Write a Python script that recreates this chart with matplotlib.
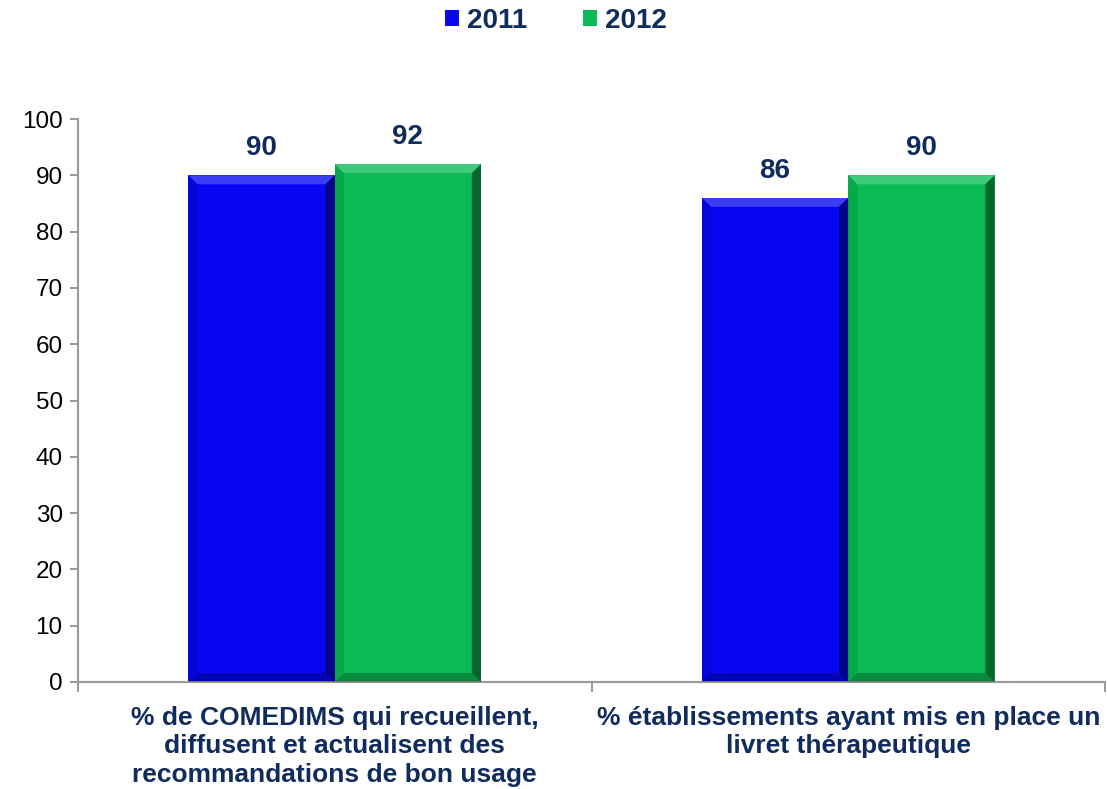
import numpy as np
import matplotlib.pyplot as plt
from matplotlib.patches import Polygon

plt.rcParams['font.family'] = ['Liberation Sans', 'DejaVu Sans']

categories = ['% de COMEDIMS qui recueillent,\ndiffusent et actualisent des\nrecommandations de bon usage',
              '% établissements ayant mis en place un\nlivret thérapeutique']
years = ['2011', '2012']
values_2011 = [90, 86]
values_2012 = [92, 90]

colors = ['#0606F2', '#0ABA55']
navy = '#102B5E'

fig = plt.figure(figsize=(11.07, 7.89), dpi=100)
ax = fig.add_axes([78 / 1107, 1 - 682 / 789, 1027 / 1107, 563 / 789])

x = np.arange(len(categories))
w = 0.285


def bevel(ax, bar):
    # pseudo-3D edges of a bar
    x0, y0 = bar.get_x(), bar.get_y()
    x1, y1 = x0 + bar.get_width(), y0 + bar.get_height()
    dx = 0.018
    dy = 1.6
    top = [(x0, y1), (x1, y1), (x1 - dx, y1 - dy), (x0 + dx, y1 - dy)]
    right = [(x1, y1), (x1, y0), (x1 - dx, y0 + dy), (x1 - dx, y1 - dy)]
    bottom = [(x0, y0), (x1, y0), (x1 - dx, y0 + dy), (x0 + dx, y0 + dy)]
    left = [(x0, y0), (x0, y1), (x0 + dx, y1 - dy), (x0 + dx, y0 + dy)]
    ax.add_patch(Polygon(top, closed=True, fc='white', alpha=0.22, lw=0, zorder=3))
    ax.add_patch(Polygon(right, closed=True, fc='black', alpha=0.45, lw=0, zorder=3))
    ax.add_patch(Polygon(bottom, closed=True, fc='black', alpha=0.25, lw=0, zorder=3))
    ax.add_patch(Polygon(left, closed=True, fc='black', alpha=0.1, lw=0, zorder=3))


for i, (vals, c) in enumerate(zip([values_2011, values_2012], colors)):
    pos = x - w / 2 + i * w
    bars = ax.bar(pos, vals, width=w, color=c, label=years[i], zorder=2)
    for b, v in zip(bars, vals):
        bevel(ax, b)
        ax.annotate(str(v), (b.get_x() + b.get_width() / 2, v), xytext=(0, 10),
                    textcoords='offset points', ha='center', va='bottom',
                    fontsize=20, fontweight='bold', color=navy)

ax.set_xlim(-0.5, 1.5)
ax.set_ylim(0, 100)
ax.set_yticks(range(0, 101, 10))
ax.tick_params(axis='y', labelsize=17.5, colors='#888888', labelcolor='black',
               length=6, width=1.2, pad=5)
ax.set_xticks([-0.5, 0.5, 1.5])
ax.set_xticklabels([])
ax.tick_params(axis='x', length=7, width=1.2, colors='#888888')
ax.set_xticks(x, minor=True)
ax.set_xticklabels(categories, minor=True, fontsize=19, fontweight='bold', color=navy,
                   linespacing=1.25)
ax.tick_params(axis='x', which='minor', length=0, pad=17)

for s in ['top', 'right']:
    ax.spines[s].set_visible(False)
for s in ['left', 'bottom']:
    ax.spines[s].set_color('#999999')
    ax.spines[s].set_linewidth(1.5)

leg = fig.legend(loc='upper center', bbox_to_anchor=(0.502, 1.022), ncol=2, frameon=False,
                 fontsize=20, handlelength=0.5, handleheight=0.5, handletextpad=0.3,
                 columnspacing=2.0)
for t in leg.get_texts():
    t.set_fontweight('bold')
    t.set_color(navy)

fig.savefig('out.png', dpi=100)
